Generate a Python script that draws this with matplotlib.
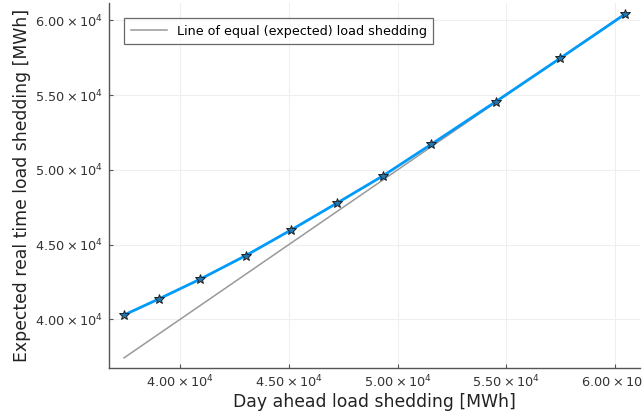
import matplotlib
matplotlib.use('Agg')
import matplotlib.pyplot as plt
from matplotlib.ticker import FuncFormatter

# day ahead vs expected real time load shedding [MWh]
day_ahead = [37419, 39046, 40935, 43009, 45101, 47221, 49341, 51553, 54516, 57479, 60475]
real_time = [40288, 41379, 42697, 44257, 45977, 47784, 49612, 51714, 54565, 57470, 60435]

x_ticks = [40000, 45000, 50000, 55000, 60000]
y_ticks = [40000, 45000, 50000, 55000, 60000]


def sci_fmt(v, pos):
    return r'$%.2f\times10^{4}$' % (v / 1e4)


plt.rcParams['mathtext.fontset'] = 'dejavusans'
fig = plt.figure(figsize=(6.42, 4.19), dpi=100)
ax = fig.add_axes([0.1698, 0.1217, 0.8272, 0.8713])

ax.plot([day_ahead[0], day_ahead[-1]], [day_ahead[0], day_ahead[-1]], color='#999999',
        lw=1.1, label='Line of equal (expected) load shedding', zorder=2)
ax.plot(day_ahead, real_time, color='#009AFA', lw=2, marker='*', markersize=7,
        markerfacecolor='#1f77b4', markeredgecolor='#222222', markeredgewidth=0.7, zorder=3)

ax.set_xlim(36728, 61152)
ax.set_ylim(36740, 61171)
ax.set_xticks(x_ticks)
ax.set_yticks(y_ticks)
ax.xaxis.set_major_formatter(FuncFormatter(sci_fmt))
ax.yaxis.set_major_formatter(FuncFormatter(sci_fmt))
ax.tick_params(direction='in', length=3, width=0.8, colors='#555555', labelcolor='#333333',
               labelsize=9.3, pad=4)
ax.grid(color='#efefef', lw=0.8)
for s in ['top', 'right']:
    ax.spines[s].set_visible(False)
for s in ['left', 'bottom']:
    ax.spines[s].set_color('#555555')
    ax.spines[s].set_linewidth(1.0)

ax.set_xlabel('Day ahead load shedding [MWh]', fontsize=12.4, color='#222222', labelpad=2)
ax.set_ylabel('Expected real time load shedding [MWh]', fontsize=12.4, color='#222222', labelpad=3)

leg = ax.legend(loc='upper left', fontsize=9.2, frameon=True, fancybox=False,
                borderaxespad=1.2, handlelength=2.8, borderpad=0.5)
leg.get_frame().set_edgecolor('#444444')
leg.get_frame().set_linewidth(0.9)

plt.savefig('out.png', dpi=100)
